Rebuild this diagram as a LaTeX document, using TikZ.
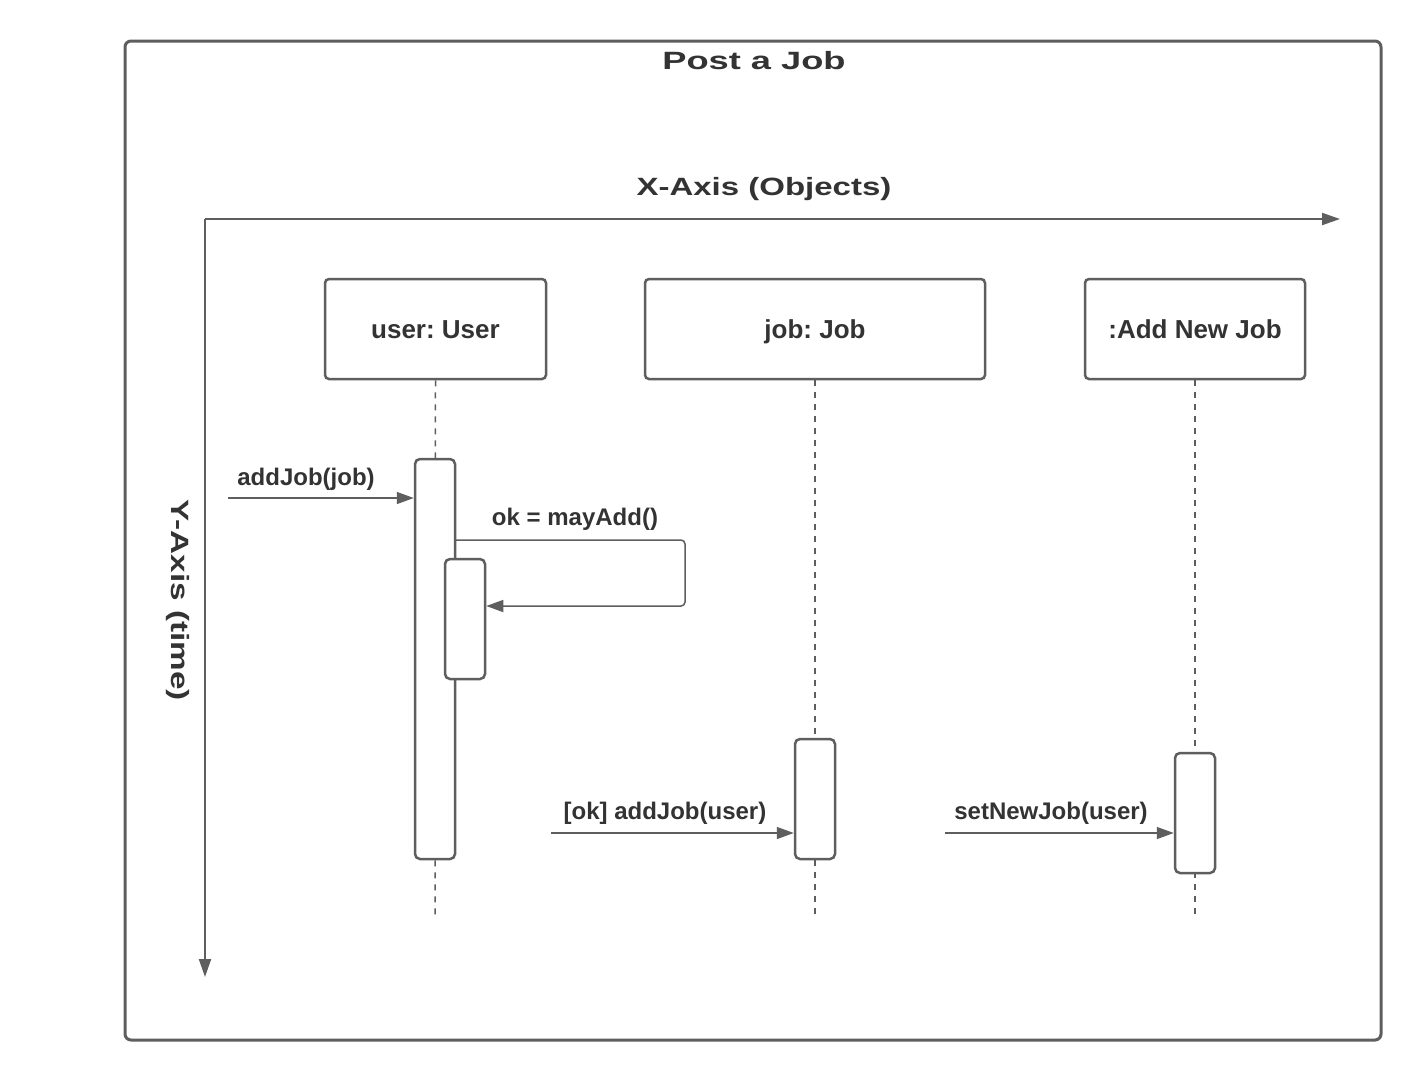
\documentclass[tikz,border=0pt]{standalone}
\usepackage{fontspec}
\setmainfont{Liberation Sans}
\usetikzlibrary{arrows.meta}
\frenchspacing
\definecolor{ln}{HTML}{5E5E5E}
\definecolor{tx}{HTML}{333333}
\tikzset{
  obj/.style={draw=ln,line width=2.5pt,rounded corners=4pt,fill=white,inner sep=0pt,font=\fontsize{26}{30}\selectfont\bfseries,text=tx,text height=18.6pt,text depth=0pt},
  act/.style={draw=ln,line width=2.5pt,rounded corners=5pt,fill=white,inner sep=0pt,minimum width=40pt},
  life/.style={draw=ln,line width=1.5pt,dash pattern=on 6pt off 6pt},
  msg/.style={draw=ln,line width=1.5pt,-{Triangle[length=17pt,width=12pt]}},
  lbl/.style={font=\fontsize{24}{28}\selectfont\bfseries,text=tx,inner sep=0pt},
  axis/.style={draw=ln,line width=2pt,-{Triangle[length=18pt,width=12pt]}},
  axlbl/.style={font=\fontsize{25}{30}\selectfont\bfseries,text=tx,inner sep=0pt}
}
\begin{document}
\begin{tikzpicture}[x=1pt,y=-1pt]
\useasboundingbox (0,0) rectangle (1421,1080);
\fill[white] (0,0) rectangle (1421,1080);
% frame
\node[draw=ln,line width=3pt,rounded corners=6pt,minimum width=1256pt,minimum height=999pt,inner sep=0pt] (frame) at (753,540.5) {};
\node[axlbl] (title) at (754,61) {\scalebox{1.45}[1]{Post a Job}};
% axes
\coordinate (origin) at (205,219);
\coordinate (xend) at (1340,219);
\coordinate (yend) at (205,977);
\draw[axis] (origin) -- (xend);
\draw[axis] (origin) -- (yend);
\node[axlbl] (xlbl) at (764,189) {\scalebox{1.32}[1]{X-Axis (Objects)}};
\node[axlbl,rotate=-90] (ylbl) at (178,600) {\scalebox{1.33}[1]{Y-Axis (time)}};
% objects
\node[obj,minimum width=221pt,minimum height=100pt] (user) at (435.5,329) {user: User};
\node[obj,minimum width=340pt,minimum height=100pt] (job) at (815,329) {job: Job};
\node[obj,minimum width=220pt,minimum height=100pt] (add) at (1195,329) {:Add New Job};
% lifelines
\coordinate (ue) at (435,918);
\coordinate (je) at (815,918);
\coordinate (ae) at (1195,918);
\draw[life] (user.south) -- (ue);
\draw[life] (job.south) -- (je);
\draw[life] (add.south) -- (ae);
% activations
\node[act,minimum height=400pt] (ua) at (435,659) {};
\node[act,minimum height=120pt] (un) at (465,619) {};
\node[act,minimum height=120pt] (ja) at (815,799) {};
\node[act,minimum height=120pt] (aa) at (1195,813) {};
% messages
\coordinate (m1s) at (228,498);
\draw[msg] (m1s) -- (ua.west |- m1s);
\node[lbl] (m1l) at (306,479) {addJob(job)};
\coordinate (m2s) at (455,540);
\draw[msg,rounded corners=4pt] (m2s) -- (685,540) -- (685,606) -- (un.east |- 0,606);
\node[lbl] (m2l) at (575,519) {ok = mayAdd()};
\coordinate (m3s) at (551,833);
\draw[msg] (m3s) -- (ja.west |- m3s);
\node[lbl] (m3l) at (665,813) {[ok] addJob(user)};
\coordinate (m4s) at (945,833);
\draw[msg] (m4s) -- (aa.west |- m4s);
\node[lbl] (m4l) at (1051,813) {setNewJob(user)};
\end{tikzpicture}
\end{document}
